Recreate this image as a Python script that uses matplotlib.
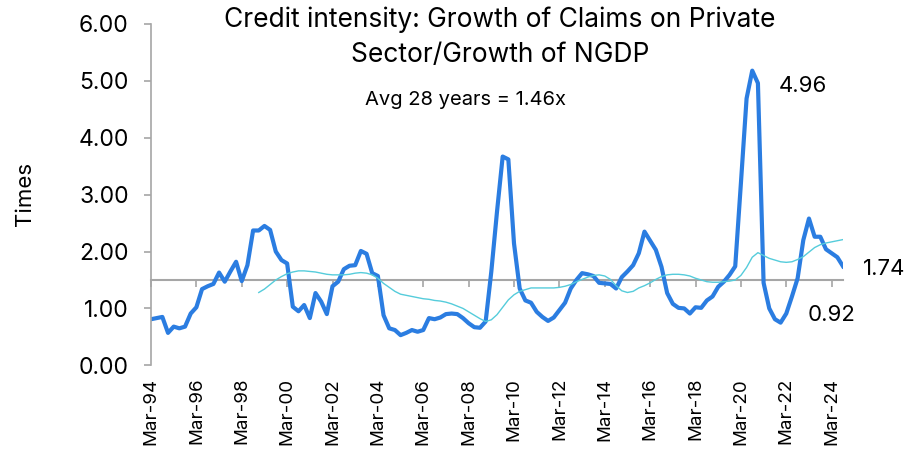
import numpy as np
import matplotlib.pyplot as plt
from matplotlib.ticker import FormatStrFormatter

plt.rcParams["font.family"] = ["Inter", "DejaVu Sans"]

# ── Data (quarterly, Mar-94 .. Sep-24) ────────────────────────────────────────
QUARTERS = [f"{m}-{y % 100:02d}" for y in range(1994, 2025)
            for m in ("Mar", "Jun", "Sep", "Dec")][:123]

# Growth of claims on private sector / growth of NGDP (times)
CREDIT_INTENSITY = [
    0.81, 0.83, 0.85, 0.57, 0.68, 0.65, 0.68, 0.91, 1.02, 1.34,
    1.39, 1.43, 1.63, 1.47, 1.65, 1.82, 1.48, 1.76, 2.37, 2.37,
    2.45, 2.38, 2.00, 1.85, 1.79, 1.03, 0.95, 1.06, 0.83, 1.27,
    1.12, 0.90, 1.39, 1.47, 1.69, 1.75, 1.76, 2.01, 1.96, 1.62,
    1.57, 0.88, 0.65, 0.62, 0.53, 0.57, 0.62, 0.59, 0.62, 0.83,
    0.81, 0.84, 0.90, 0.91, 0.90, 0.83, 0.74, 0.67, 0.66, 0.77,
    1.65, 2.70, 3.67, 3.62, 2.14, 1.35, 1.14, 1.10, 0.94, 0.85,
    0.78, 0.84, 0.97, 1.10, 1.35, 1.50, 1.62, 1.60, 1.57, 1.45,
    1.44, 1.43, 1.35, 1.55, 1.65, 1.76, 1.97, 2.35, 2.19, 2.03,
    1.73, 1.27, 1.08, 1.01, 1.00, 0.91, 1.02, 1.01, 1.14, 1.21,
    1.38, 1.47, 1.59, 1.74, 3.20, 4.69, 5.18, 4.96, 1.45, 1.00,
    0.81, 0.75, 0.91, 1.21, 1.53, 2.20, 2.58, 2.26, 2.26, 2.04,
    1.97, 1.90, 1.74,
]

# 20-quarter moving average (thin line), starts at Dec-98
MA_START = 19
MOVING_AVG = [
    1.28, 1.34, 1.42, 1.50, 1.56, 1.61, 1.64, 1.66, 1.66, 1.65,
    1.64, 1.62, 1.60, 1.59, 1.59, 1.59, 1.60, 1.62, 1.63, 1.62,
    1.59, 1.53, 1.44, 1.37, 1.30, 1.25, 1.23, 1.21, 1.19, 1.17,
    1.16, 1.14, 1.13, 1.11, 1.08, 1.04, 1.00, 0.94, 0.88, 0.82,
    0.77, 0.80, 0.89, 1.02, 1.15, 1.24, 1.30, 1.33, 1.36, 1.36,
    1.36, 1.36, 1.36, 1.37, 1.39, 1.42, 1.47, 1.51, 1.55, 1.58,
    1.59, 1.57, 1.51, 1.40, 1.31, 1.28, 1.30, 1.36, 1.40, 1.45,
    1.51, 1.56, 1.59, 1.60, 1.60, 1.59, 1.57, 1.53, 1.50, 1.47,
    1.46, 1.46, 1.47, 1.48, 1.50, 1.58, 1.72, 1.90, 1.98, 1.93,
    1.88, 1.85, 1.82, 1.81, 1.82, 1.86, 1.91, 1.99, 2.07, 2.12,
    2.15, 2.17, 2.19, 2.21,
]

AXIS_CROSS = 1.5   # category axis crosses value axis here
Y_MAX = 6.0

BLUE = "#2B7DE1"
CYAN = "#55CCDB"
GRAY = "#A6A6A6"

# ── Plot ─────────────────────────────────────────────────────────────────────
fig = plt.figure(figsize=(9.06, 4.55), dpi=100)
ax = fig.add_axes([151 / 906, 1 - 365.3 / 455, 692 / 906, 341.3 / 455])

x = np.arange(len(CREDIT_INTENSITY))
ax.plot(x, CREDIT_INTENSITY, color=BLUE, linewidth=3.0, solid_joinstyle="round")
ax.plot(x[MA_START:MA_START + len(MOVING_AVG)], MOVING_AVG, color=CYAN, linewidth=1.0)

ax.set_xlim(0, len(x) - 1)
ax.set_ylim(0, Y_MAX)
ax.set_yticks(np.arange(0, Y_MAX + 0.5, 1.0))
ax.yaxis.set_major_formatter(FormatStrFormatter("%.2f"))

for side in ("top", "right", "bottom"):
    ax.spines[side].set_visible(False)
ax.spines["left"].set_color(GRAY)
ax.spines["left"].set_linewidth(1.2)
ax.tick_params(axis="y", colors=GRAY, labelcolor="black", length=5, width=1.2,
               pad=11, labelsize=16.5)

label_idx = x[::8]
ax.set_xticks(label_idx)
ax.set_xticklabels([QUARTERS[i] for i in label_idx], rotation=90)
ax.tick_params(axis="x", length=0, pad=9, labelsize=13.5)

# horizontal category axis drawn at the crossing value
sec = ax.secondary_xaxis(AXIS_CROSS / Y_MAX)
sec.set_xticks(label_idx)
sec.tick_params(axis="x", colors=GRAY, length=5, width=1.2, labelbottom=False,
                labeltop=False)
for s in sec.spines.values():
    s.set_color(GRAY)
    s.set_linewidth(1.5)

# ── Text ─────────────────────────────────────────────────────────────────────
fig.text(500 / 906, 1 - 37 / 455,
         "Credit intensity: Growth of Claims on Private\nSector/Growth of NGDP",
         ha="center", va="center", fontsize=19, linespacing=1.45)
fig.text(25.5 / 906, 1 - 194 / 455, "Times", rotation=90, ha="center",
         va="center", fontsize=16)

ax.text(55.5, 4.66, "Avg 28 years = 1.46x", ha="center", va="center", fontsize=14.5)
ax.text(114.9, 4.91, "4.96", ha="center", va="center", fontsize=16, clip_on=False)
ax.text(119.9, 0.88, "0.92", ha="center", va="center", fontsize=16, clip_on=False)
ax.text(129.2, 1.70, "1.74", ha="center", va="center", fontsize=16, clip_on=False)

fig.savefig("out.png", dpi=100)
